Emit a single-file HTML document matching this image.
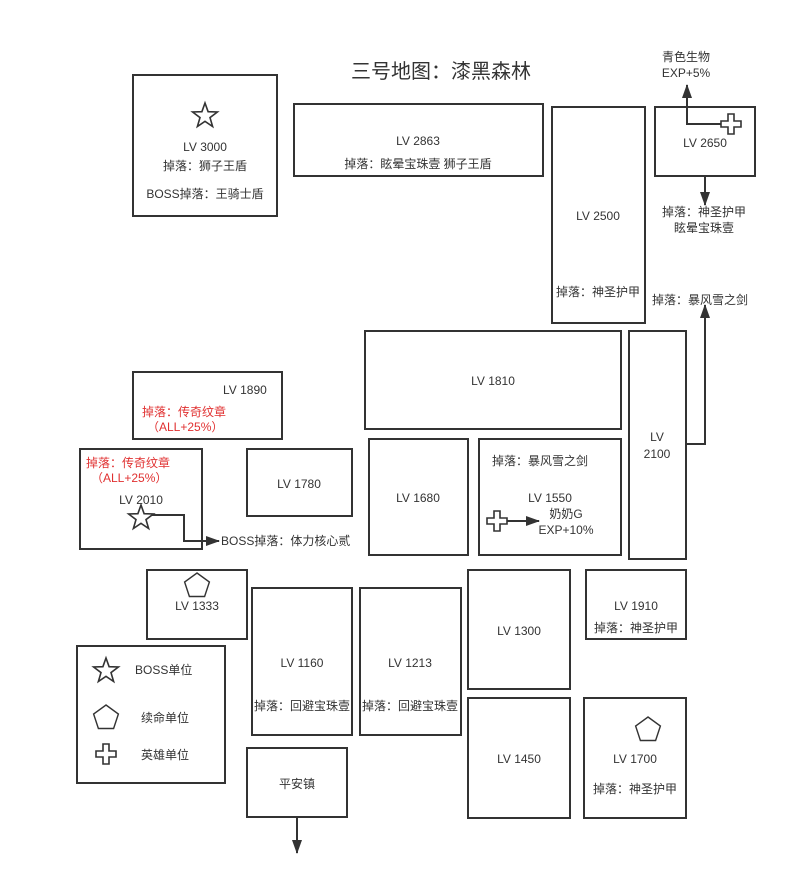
<!DOCTYPE html>
<html><head><meta charset="utf-8"><style>
html,body{margin:0;padding:0;background:#fff;}
svg text{font-family:"Liberation Sans","Noto Sans CJK SC",sans-serif;font-size:12px;fill:#333;}
</style></head><body>
<svg width="794" height="882" xmlns="http://www.w3.org/2000/svg">
<defs>
<polygon id="star" points="0,-13 3.1,-4.3 12.4,-4 5,1.6 7.6,10.5 0,5.3 -7.6,10.5 -5,1.6 -12.4,-4 -3.1,-4.3" fill="#fff" stroke="#333" stroke-width="1.6"/>
<polygon id="pent" points="0,-13 12.4,-4 7.6,10.5 -7.6,10.5 -12.4,-4" fill="#fff" stroke="#333" stroke-width="1.4"/>
<polygon id="cross" points="-3,-10 3,-10 3,-3 10,-3 10,3 3,3 3,10 -3,10 -3,3 -10,3 -10,-3 -3,-3" fill="#fff" stroke="#333" stroke-width="1.6"/>
<marker id="ah" markerWidth="14" markerHeight="12" refX="13" refY="6" orient="auto" markerUnits="userSpaceOnUse"><path d="M0,1 L14,6 L0,11 z" fill="#333"/></marker>
</defs>
<g fill="#fff" stroke="#333" stroke-width="2">
<rect x="133" y="75" width="144" height="141"/>
<rect x="294" y="104" width="249" height="72"/>
<rect x="552" y="107" width="93" height="216"/>
<rect x="655" y="107" width="100" height="69"/>
<rect x="365" y="331" width="256" height="98"/>
<rect x="629" y="331" width="57" height="228"/>
<rect x="133" y="372" width="149" height="67"/>
<rect x="80" y="449" width="122" height="100"/>
<rect x="247" y="449" width="105" height="67"/>
<rect x="369" y="439" width="99" height="116"/>
<rect x="479" y="439" width="142" height="116"/>
<rect x="147" y="570" width="100" height="69"/>
<rect x="252" y="588" width="100" height="147"/>
<rect x="360" y="588" width="101" height="147"/>
<rect x="468" y="570" width="102" height="119"/>
<rect x="586" y="570" width="100" height="69"/>
<rect x="77" y="646" width="148" height="137"/>
<rect x="468" y="698" width="102" height="120"/>
<rect x="584" y="698" width="102" height="120"/>
<rect x="247" y="748" width="100" height="69"/>
</g>
<text x="441" y="78" text-anchor="middle" style="font-size:20px">三号地图：漆黑森林</text>
<g text-anchor="middle">
<text x="205" y="151">LV 3000</text>
<text x="205" y="170">掉落：狮子王盾</text>
<text x="205" y="198">BOSS掉落：王骑士盾</text>
<text x="418" y="145">LV 2863</text>
<text x="418" y="168">掉落：眩晕宝珠壹  狮子王盾</text>
<text x="598" y="220">LV 2500</text>
<text x="598" y="296">掉落：神圣护甲</text>
<text x="705" y="147">LV 2650</text>
<text x="686" y="61">青色生物</text>
<text x="686" y="77">EXP+5%</text>
<text x="704" y="216">掉落：神圣护甲</text>
<text x="704" y="232">眩晕宝珠壹</text>
<text x="700" y="304">掉落：暴风雪之剑</text>
<text x="493" y="385">LV 1810</text>
<text x="657" y="441">LV</text>
<text x="657" y="458">2100</text>
<text x="299" y="488">LV 1780</text>
<text x="418" y="502">LV 1680</text>
<text x="540" y="465">掉落：暴风雪之剑</text>
<text x="550" y="502">LV 1550</text>
<text x="566" y="518">奶奶G</text>
<text x="566" y="534">EXP+10%</text>
<text x="141" y="504">LV 2010</text>
<text x="197" y="610">LV 1333</text>
<text x="302" y="667">LV 1160</text>
<text x="302" y="710">掉落：回避宝珠壹</text>
<text x="410" y="667">LV 1213</text>
<text x="410" y="710">掉落：回避宝珠壹</text>
<text x="519" y="635">LV 1300</text>
<text x="636" y="610">LV 1910</text>
<text x="636" y="632">掉落：神圣护甲</text>
<text x="519" y="763">LV 1450</text>
<text x="635" y="763">LV 1700</text>
<text x="635" y="793">掉落：神圣护甲</text>
<text x="297" y="788">平安镇</text>
</g>
<text x="223" y="394">LV 1890</text>
<text x="142" y="416" style="fill:#e03030">掉落：传奇纹章</text>
<text x="147" y="431" style="fill:#e03030">（ALL+25%）</text>
<text x="86" y="467" style="fill:#e03030">掉落：传奇纹章</text>
<text x="91" y="482" style="fill:#e03030">（ALL+25%）</text>
<text x="221" y="545">BOSS掉落：体力核心贰</text>
<text x="135" y="674">BOSS单位</text>
<text x="141" y="722">续命单位</text>
<text x="141" y="759">英雄单位</text>
<g fill="none" stroke="#333" stroke-width="2">
<path d="M730,124 H687 V85" marker-end="url(#ah)"/>
<path d="M705,176 V205" marker-end="url(#ah)"/>
<path d="M686,444 H705 V305" marker-end="url(#ah)"/>
<path d="M152,515 H184 V541 H219" marker-end="url(#ah)"/>
<path d="M505,521 H539" marker-end="url(#ah)"/>
<path d="M297,817 V853" marker-end="url(#ah)"/>
</g>
<use href="#cross" x="731" y="124"/>
<use href="#star" x="205" y="116"/>
<use href="#star" x="141" y="518"/>
<use href="#cross" x="497" y="521"/>
<use href="#pent" x="197" y="586"/>
<use href="#pent" x="648" y="730"/>
<use href="#star" x="106" y="671"/>
<use href="#pent" x="106" y="718"/>
<use href="#cross" x="106" y="754"/>
</svg>
</body></html>
